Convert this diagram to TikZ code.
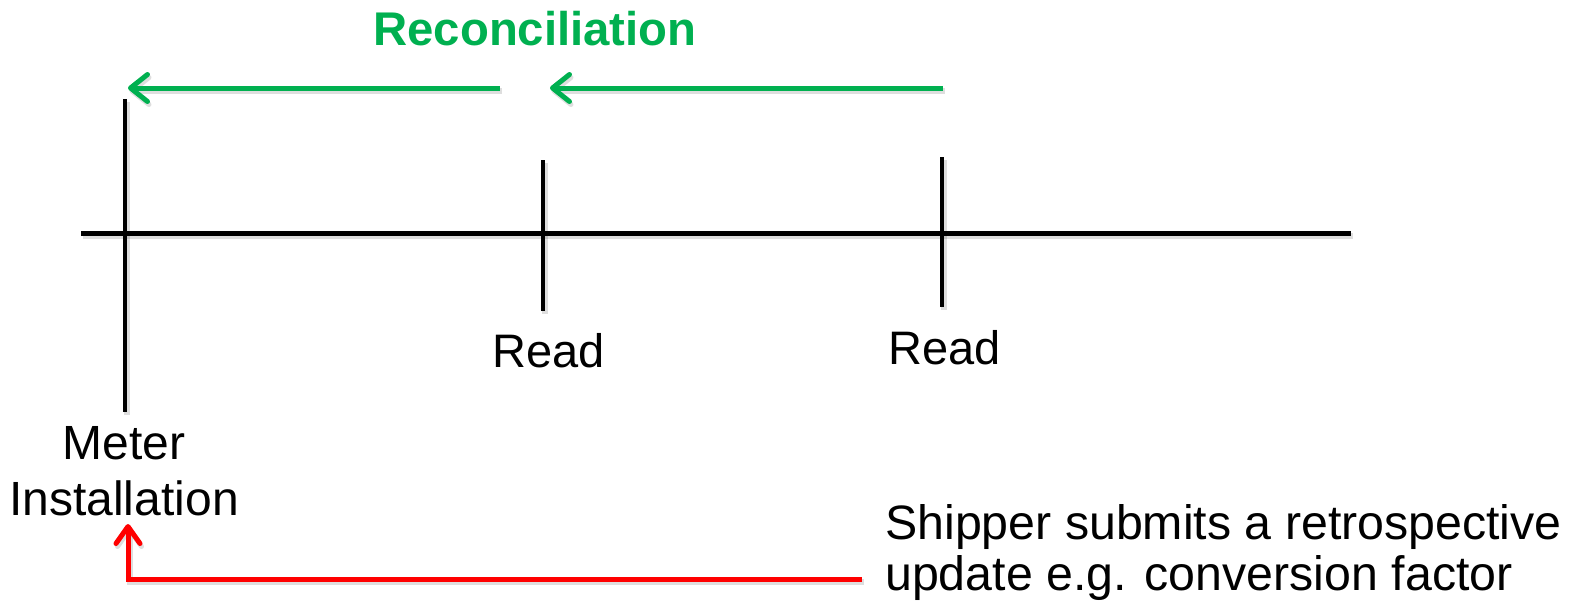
\documentclass[tikz,border=0pt]{standalone}
\usepackage{fontspec}
\setmainfont{Liberation Sans}
\usetikzlibrary{arrows.meta}
\definecolor{recgreen}{HTML}{00B050}
\definecolor{updred}{HTML}{FF0000}
\tikzset{
  shade line/.style={preaction={draw=black,opacity=0.13,line width=6pt,
      transform canvas={shift={(1.5pt,-3pt)}}}},
  timeline/.style={draw=black,line width=5pt,shade line},
  tickline/.style={draw=black,line width=4.5pt,shade line},
  greenarrow/.style={draw=recgreen,line width=5pt,shade line,
      -{Straight Barb[length=17pt,width=27pt,line width=5pt,round]}},
  redarrow/.style={draw=updred,line width=5pt,shade line,
      -{Straight Barb[length=17pt,width=24pt,line width=5pt,round]}},
  lbl/.style={inner sep=0pt,font=\fontsize{47}{55}\selectfont},
}
\begin{document}
\begin{tikzpicture}[x=1pt,y=-1pt]
\useasboundingbox (0,0) rectangle (1572,605);
% timeline
\coordinate (tlL) at (81,233);
\coordinate (tlR) at (1351,233);
\draw[timeline] (tlL) -- (tlR);
% ticks
\coordinate (t1a) at (125,99);
\coordinate (t1b) at (125,412);
\coordinate (t2a) at (543,160);
\coordinate (t2b) at (543,311);
\coordinate (t3a) at (942,157);
\coordinate (t3b) at (942,307);
\draw[tickline] (t1a) -- (t1b);
\draw[tickline] (t2a) -- (t2b);
\draw[tickline] (t3a) -- (t3b);
% labels
\node[lbl,anchor=base west] (read1) at (492,367) {Read};
\node[lbl,anchor=base west] (read2) at (888,364) {Read};
\node[lbl,anchor=north,align=center,font=\fontsize{48}{56}\selectfont] (inst) at (124,426) {Meter\\Installation};
\node[lbl,anchor=north west,align=left,font=\fontsize{48.3}{51}\selectfont] (ship) at (885,504)
  {Shipper submits a retrospective\\update e.g. conversion factor};
\node[inner sep=0pt,anchor=base,text=recgreen,font=\fontsize{47.3}{55}\selectfont\bfseries] (rec) at (535,45) {Reconciliation};
% green arrows
\coordinate (g1s) at (500,88);
\coordinate (g1e) at (128,88);
\coordinate (g2s) at (943,88);
\coordinate (g2e) at (550,88);
\draw[greenarrow] (g1s) -- (g1e);
\draw[greenarrow] (g2s) -- (g2e);
% red arrow
\coordinate (rs) at (862,579);
\coordinate (rt) at (128,524);
\draw[redarrow] (rs) -| (rt);
\end{tikzpicture}
\end{document}
